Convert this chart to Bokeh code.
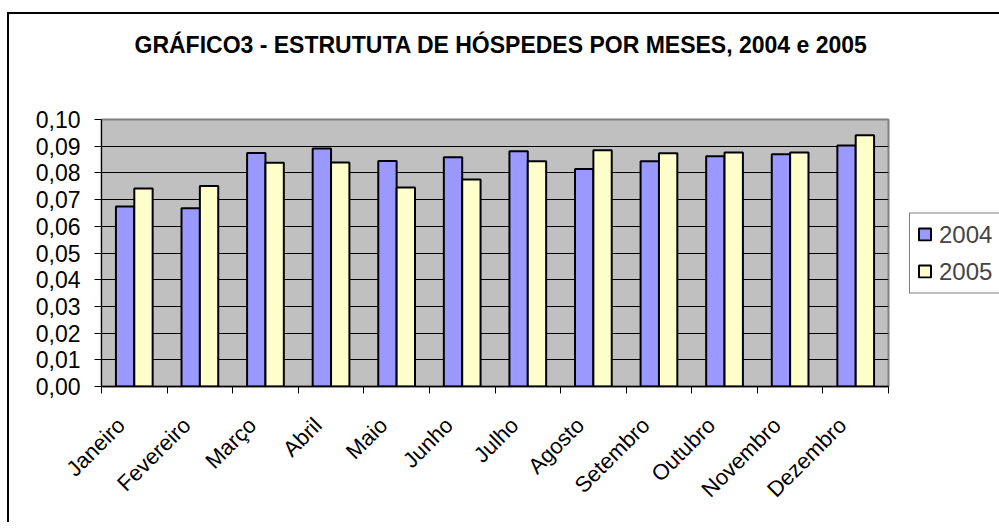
import numpy as np
from bokeh.plotting import figure
from bokeh.models import (FixedTicker, CustomJSTickFormatter, Legend, LegendItem, Range1d)
from bokeh.embed import file_html
from bokeh.resources import INLINE

months = ["Janeiro", "Fevereiro", "Março", "Abril", "Maio", "Junho",
          "Julho", "Agosto", "Setembro", "Outubro", "Novembro", "Dezembro"]
v2004 = [0.0674, 0.0668, 0.0875, 0.0891, 0.0845, 0.0859,
         0.0881, 0.0815, 0.0844, 0.0862, 0.0870, 0.0903]
v2005 = [0.0742, 0.0751, 0.0838, 0.0839, 0.0745, 0.0775,
         0.0844, 0.0885, 0.0874, 0.0876, 0.0876, 0.0941]
y_ticks = [round(0.01 * i, 2) for i in range(11)]
title_text = "GRÁFICO3 -  ESTRUTUTA DE HÓSPEDES POR MESES, 2004 e 2005"

FONT = "Liberation Sans"
FW, FH = 787, 267

# two blank lines under the title lift it higher inside the top band
p = figure(frame_width=FW, frame_height=FH, output_backend="svg", toolbar_location=None,
           x_range=Range1d(0, len(months)), y_range=Range1d(0, 0.10),
           min_border_left=92, min_border_right=105, min_border_top=105,
           min_border_bottom=138, title=title_text + "\n \n ")
p.styles = {"margin-left": "9px", "margin-top": "14px",
            "box-shadow": "-2px -2px 0 0 black"}

p.title.align = "left"
p.title.offset = 33
p.title.text_font = FONT
p.title.text_font_size = "23px"
p.title.text_font_style = "bold"
p.title.text_color = "black"
p.title.standoff = 20

p.background_fill_color = "#C0C0C0"
p.border_fill_color = "white"
p.outline_line_color = "#808080"
p.outline_line_width = 2

centers = np.arange(len(months)) + 0.5
bw = 0.28
r1 = p.vbar(x=centers - bw / 2, top=v2004, width=bw, fill_color="#9999FF",
            line_color="black", line_width=2)
r2 = p.vbar(x=centers + bw / 2, top=v2005, width=bw, fill_color="#FFFFCC",
            line_color="black", line_width=2)

# x axis: labels slightly left of the category centre, ticks at the boundaries
label_pos = centers - 0.2
p.xaxis.ticker = FixedTicker(ticks=list(label_pos), minor_ticks=list(range(len(months) + 1)))
p.xaxis.major_label_overrides = {float(c): m for c, m in zip(label_pos, months)}
p.xaxis.major_tick_line_color = None
p.xaxis.minor_tick_line_color = "black"
p.xaxis.minor_tick_in = 0
p.xaxis.minor_tick_out = 7
p.xaxis.major_tick_out = 7
p.xaxis.major_tick_in = 0
p.xaxis.major_label_orientation = np.pi / 4
p.xaxis.major_label_standoff = 28
p.xaxis.major_label_text_font = FONT
p.xaxis.major_label_text_font_size = "22px"
p.xaxis.major_label_text_color = "black"
p.xaxis.axis_line_color = "black"
p.xaxis.axis_line_width = 1.5

# y axis
p.yaxis.ticker = FixedTicker(ticks=y_ticks)
p.yaxis.formatter = CustomJSTickFormatter(code="return tick.toFixed(2).replace('.', ',');")
p.yaxis.major_tick_in = 0
p.yaxis.major_tick_out = 7
p.yaxis.minor_tick_line_color = None
p.yaxis.major_tick_line_color = "black"
p.yaxis.major_label_standoff = 14
p.yaxis.major_label_text_font = FONT
p.yaxis.major_label_text_font_size = "23px"
p.yaxis.major_label_text_color = "black"
p.yaxis.axis_line_color = "black"

p.xgrid.grid_line_color = None
p.ygrid.grid_line_color = "black"
p.ygrid.grid_line_width = 1

legend = Legend(items=[LegendItem(label="2004", renderers=[r1]),
                       LegendItem(label="2005", renderers=[r2])],
                location="center_left", margin=21)
legend.label_text_font = FONT
legend.label_text_font_size = "24px"
legend.glyph_width = 15
legend.glyph_height = 15
legend.padding = 7
legend.spacing = 9
legend.label_standoff = 7
legend.border_line_color = "black"
legend.border_line_width = 1
legend.background_fill_color = "white"
legend.background_fill_alpha = 1
p.add_layout(legend, "right")

open("out.html", "w").write(file_html(p, INLINE))
